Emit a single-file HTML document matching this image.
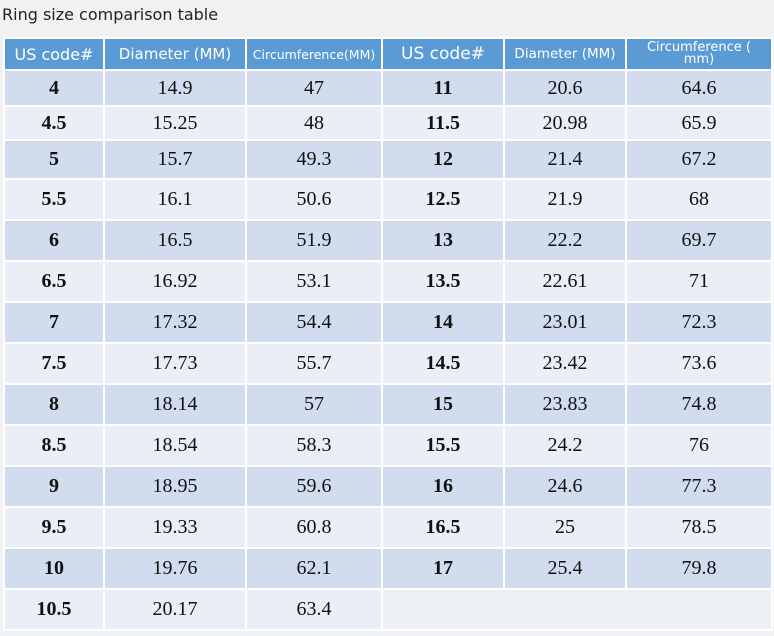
<!DOCTYPE html>
<html><head><style>
body{margin:0;width:774px;height:636px;background:#f0f1f3;overflow:hidden;font-family:"Liberation Serif",serif;}
.title{position:absolute;left:2px;top:5px;font:16px "DejaVu Sans",sans-serif;color:#222;}
table{position:absolute;left:3px;top:37px;border-collapse:collapse;}
td{border:2px solid #fff;text-align:center;color:#111;font-size:20px;padding:0;}
tr.h td{background:#5b9bd5;color:#fff;font-family:"DejaVu Sans",sans-serif;font-size:15px;height:30px;}
tr.a td{background:#d1ddee;}
tr.b td{background:#e9eef7;}
td.k{font-weight:bold;}
td.e{background:#eceff4 !important;}
</style></head><body>
<div class="title">Ring size comparison table</div>
<table>
<colgroup><col style="width:100px"><col style="width:142px"><col style="width:136px"><col style="width:122px"><col style="width:122px"><col style="width:146px"></colgroup>
<tr class="h"><td style="font-size:16px">US code#</td><td>Diameter (MM)</td><td style="font-size:12.5px">Circumference(MM)</td><td style="font-size:17px">US code#</td><td style="font-size:13.5px">Diameter (MM)</td><td style="font-size:13px;line-height:12px">Circumference (<br>mm)</td></tr>
<tr class="a" style="height:36px"><td class="k">4</td><td>14.9</td><td>47</td><td class="k">11</td><td>20.6</td><td>64.6</td></tr>
<tr class="b" style="height:34px"><td class="k">4.5</td><td>15.25</td><td>48</td><td class="k">11.5</td><td>20.98</td><td>65.9</td></tr>
<tr class="a" style="height:39px"><td class="k">5</td><td>15.7</td><td>49.3</td><td class="k">12</td><td>21.4</td><td>67.2</td></tr>
<tr class="b" style="height:41px"><td class="k">5.5</td><td>16.1</td><td>50.6</td><td class="k">12.5</td><td>21.9</td><td>68</td></tr>
<tr class="a" style="height:41px"><td class="k">6</td><td>16.5</td><td>51.9</td><td class="k">13</td><td>22.2</td><td>69.7</td></tr>
<tr class="b" style="height:41px"><td class="k">6.5</td><td>16.92</td><td>53.1</td><td class="k">13.5</td><td>22.61</td><td>71</td></tr>
<tr class="a" style="height:41px"><td class="k">7</td><td>17.32</td><td>54.4</td><td class="k">14</td><td>23.01</td><td>72.3</td></tr>
<tr class="b" style="height:41px"><td class="k">7.5</td><td>17.73</td><td>55.7</td><td class="k">14.5</td><td>23.42</td><td>73.6</td></tr>
<tr class="a" style="height:41px"><td class="k">8</td><td>18.14</td><td>57</td><td class="k">15</td><td>23.83</td><td>74.8</td></tr>
<tr class="b" style="height:41px"><td class="k">8.5</td><td>18.54</td><td>58.3</td><td class="k">15.5</td><td>24.2</td><td>76</td></tr>
<tr class="a" style="height:41px"><td class="k">9</td><td>18.95</td><td>59.6</td><td class="k">16</td><td>24.6</td><td>77.3</td></tr>
<tr class="b" style="height:41px"><td class="k">9.5</td><td>19.33</td><td>60.8</td><td class="k">16.5</td><td>25</td><td>78.5</td></tr>
<tr class="a" style="height:41px"><td class="k">10</td><td>19.76</td><td>62.1</td><td class="k">17</td><td>25.4</td><td>79.8</td></tr>
<tr class="b" style="height:41px"><td class="k">10.5</td><td>20.17</td><td>63.4</td><td colspan="3" class="e"></td></tr>
</table>
</body></html>
